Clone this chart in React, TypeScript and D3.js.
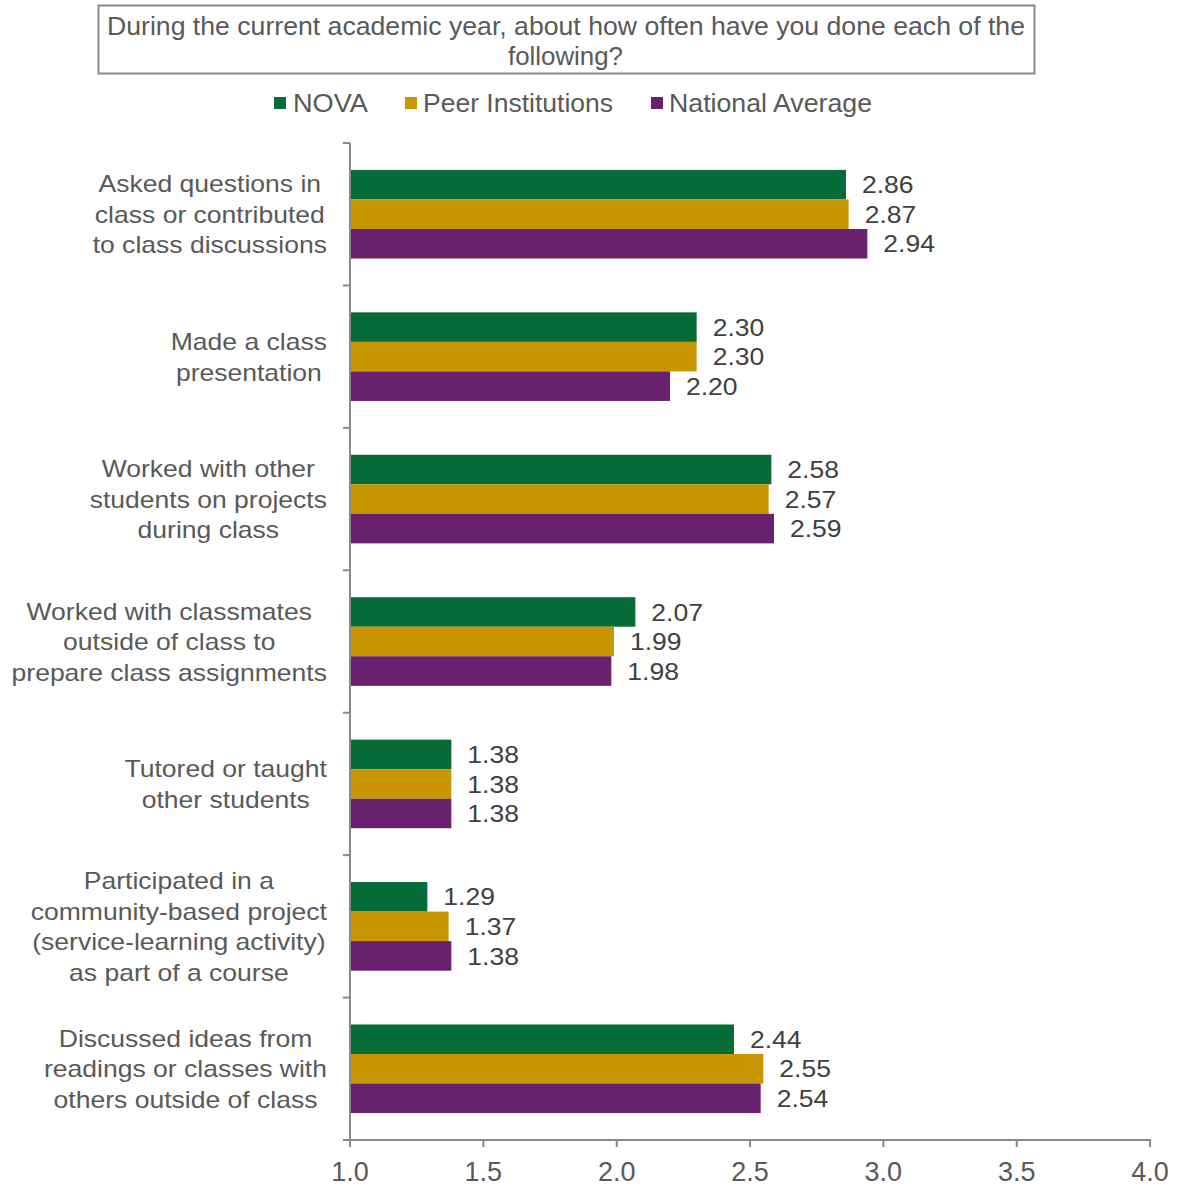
import React from "react";
import * as d3 from "d3";

const categories = [
  ["Asked questions in", "class or contributed", "to class discussions"],
  ["Made a class", "presentation"],
  ["Worked with other", "students on projects", "during class"],
  ["Worked with classmates", "outside of class to", "prepare class assignments"],
  ["Tutored or taught", "other students"],
  ["Participated in a", "community-based project", "(service-learning activity)", "as part of a course"],
  ["Discussed ideas from", "readings or classes with", "others outside of class"],
];
const seriesNames = ["NOVA", "Peer Institutions", "National Average"];
const novaValues = [2.86, 2.3, 2.58, 2.07, 1.38, 1.29, 2.44];
const peerValues = [2.87, 2.3, 2.57, 1.99, 1.38, 1.37, 2.55];
const nationalValues = [2.94, 2.2, 2.59, 1.98, 1.38, 1.38, 2.54];
const xTicks = [1.0, 1.5, 2.0, 2.5, 3.0, 3.5, 4.0];
const titleLines = ["During the current academic year, about how often have you done each of the", "following?"];

const colors = ["#056C38", "#C89600", "#68206F"];
const series = [novaValues, peerValues, nationalValues];
const NARROW = "'Liberation Sans Narrow', 'Arial Narrow', 'Liberation Sans', Arial, sans-serif";
const SANS = "'Liberation Sans', Arial, sans-serif";
const STRETCH = 1.105;

let ctx: CanvasRenderingContext2D | null = null;
function measure(t: string, font: string) {
  if (!ctx) {
    const c = document.createElement("canvas");
    ctx = c.getContext("2d");
  }
  if (!ctx) return t.length * 12;
  ctx.font = font;
  return ctx.measureText(t).width;
}
const SANS_FONT = `24px ${SANS}`;

export default function App() {
  const W = 1180, H = 1186;
  const x = d3.scaleLinear().domain([1, 4]).range([350, 1150]);
  const y = d3.scaleBand<number>().domain(d3.range(categories.length)).range([143, 1140]).padding(0);
  const yi = d3.scaleBand<number>().domain([0, 1, 2]).range([0, y.bandwidth()]).paddingInner(0).paddingOuter(0.911);
  const axisColor = "#898989";
  const lineH = 30.5;

  const legendItems = [
    { sq: 274, tx: 293, w: 75 },
    { sq: 405, tx: 423, w: 190 },
    { sq: 651, tx: 669, w: 203 },
  ];

  return (
    <svg width={W} height={H} style={{ display: "block", position: "absolute", left: 0, top: 0 }}>
      <rect x={0} y={0} width={W} height={H} fill="#fff" />
      {/* title box */}
      <rect x={98.5} y={5.5} width={936} height={68} fill="#fff" stroke={axisColor} strokeWidth={2} />
      <text x={107} y={35} fontFamily={NARROW} fontSize={25} fill="#595959" textLength={918} lengthAdjust="spacingAndGlyphs">{titleLines[0]}</text>
      <text x={508} y={65} fontFamily={NARROW} fontSize={25} fill="#595959" textLength={115} lengthAdjust="spacingAndGlyphs">{titleLines[1]}</text>
      {/* legend */}
      {seriesNames.map((n, i) => (
        <g key={n}>
          <rect x={legendItems[i].sq} y={97} width={12} height={12} fill={colors[i]} />
          <text x={legendItems[i].tx} y={112} fontFamily={NARROW} fontSize={25} fill="#595959" textLength={legendItems[i].w} lengthAdjust="spacingAndGlyphs">{n}</text>
        </g>
      ))}
      {/* bars */}
      {categories.map((c, ci) => (
        <g key={ci}>
          {series.map((vals, si) => {
            const by = (y(ci) as number) + (yi(si) as number);
            const v = vals[ci];
            const label = v.toFixed(2);
            return (
              <g key={si}>
                <rect x={x(1)} y={by} width={x(v) - x(1)} height={yi.bandwidth()} fill={colors[si]} />
                <text x={x(v) + 16} y={by + yi.bandwidth() / 2} dy="0.36em" fontFamily={SANS} fontSize={24} fill="#404040" textLength={measure(label, SANS_FONT) * STRETCH} lengthAdjust="spacingAndGlyphs">{label}</text>
              </g>
            );
          })}
          {(() => {
            const maxW = Math.max(...c.map((l) => measure(l, SANS_FONT))) * STRETCH;
            const cx = 327 - maxW / 2;
            const cy = (y(ci) as number) + y.bandwidth() / 2;
            const y0 = cy - ((c.length - 1) * lineH) / 2;
            return c.map((l, li) => (
              <text key={li} x={cx} y={y0 + li * lineH} dy="0.36em" textAnchor="middle" fontFamily={SANS} fontSize={24} fill="#595959" textLength={measure(l, SANS_FONT) * STRETCH} lengthAdjust="spacingAndGlyphs">{l}</text>
            ));
          })()}
        </g>
      ))}
      {/* y axis */}
      <line x1={350} x2={350} y1={143} y2={1140} stroke={axisColor} strokeWidth={2} />
      {d3.range(categories.length + 1).map((i) => {
        const ty = i < categories.length ? (y(i) as number) : 1140;
        return <line key={i} x1={343} x2={350} y1={ty} y2={ty} stroke={axisColor} strokeWidth={2} />;
      })}
      {/* x axis */}
      <line x1={349} x2={1151} y1={1140} y2={1140} stroke={axisColor} strokeWidth={2} />
      {xTicks.map((t) => (
        <g key={t}>
          <line x1={x(t)} x2={x(t)} y1={1140} y2={1147} stroke={axisColor} strokeWidth={2} />
          <text x={x(t)} y={1181} textAnchor="middle" fontFamily={NARROW} fontSize={27} fill="#595959">{t.toFixed(1)}</text>
        </g>
      ))}
    </svg>
  );
}
